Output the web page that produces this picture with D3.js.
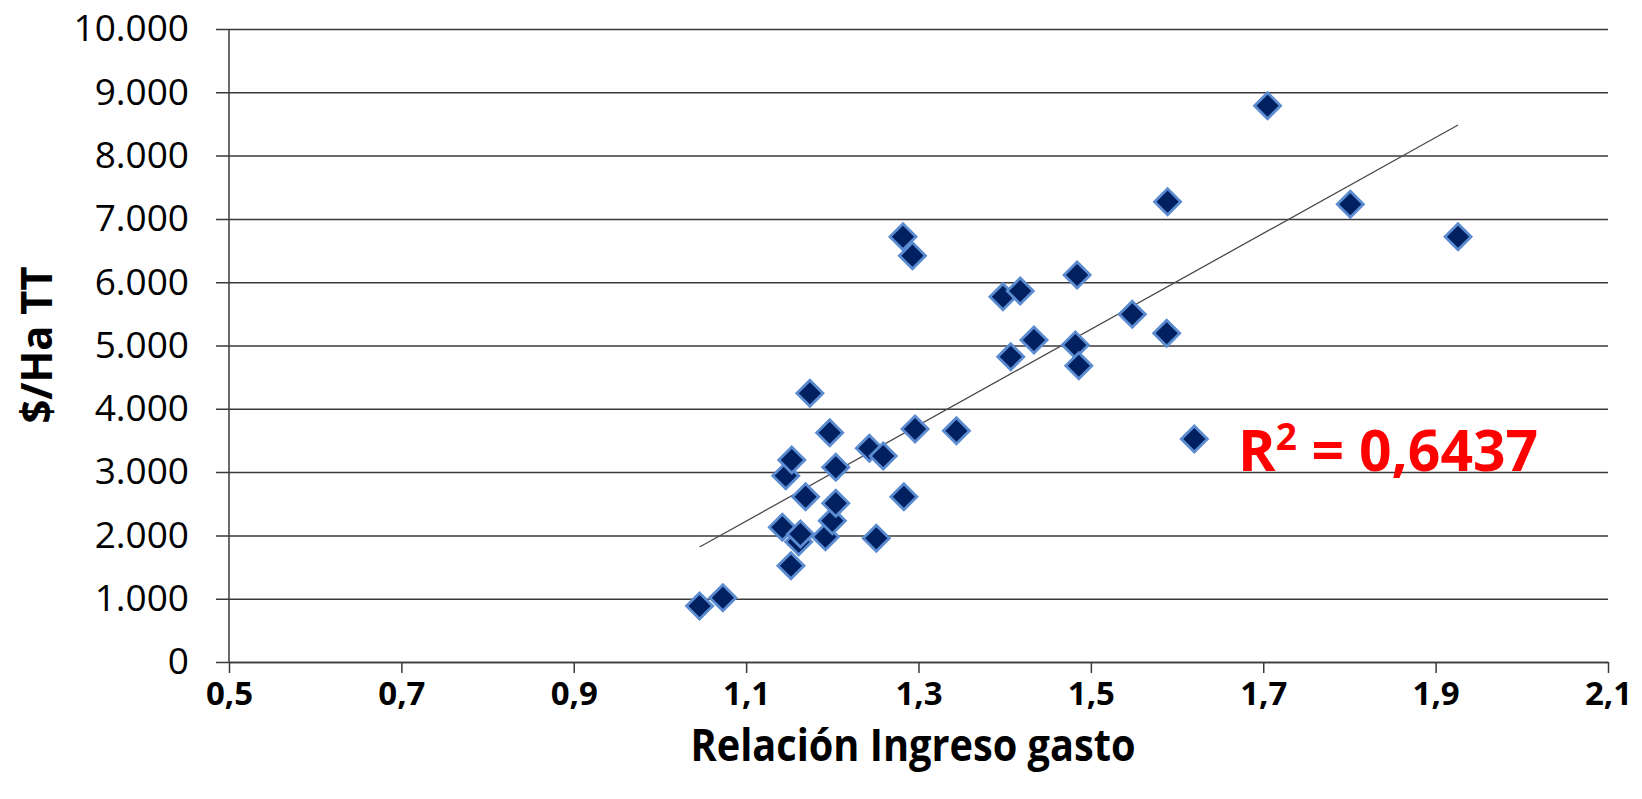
<!DOCTYPE html>
<html>
<head>
<meta charset="utf-8">
<script src="https://cdn.jsdelivr.net/npm/d3@7"></script>
<style>
	body { margin: 0; background: #fff; }
	svg { display: block; font-family: "Open Sans", sans-serif; }
</style>
</head>
<body>
<svg id="chart" width="1642" height="799"></svg>
<script>
// Relación ingreso/gasto (x) vs $/Ha TT (y)
let ratioVals = [1.046, 1.073, 1.142, 1.146, 1.152, 1.153, 1.161, 1.163, 1.169, 1.174,
	1.192, 1.197, 1.200, 1.204, 1.204, 1.243, 1.251, 1.259, 1.282, 1.283,
	1.293, 1.296, 1.344, 1.398, 1.407, 1.418, 1.434, 1.482, 1.484, 1.486,
	1.548, 1.588, 1.589, 1.620, 1.705, 1.801, 1.926];
let haVals = [885, 1016, 2128, 2943, 1521, 3191, 1900, 2022, 2611, 4245,
	1979, 3622, 2232, 2507, 3076, 3376, 1954, 3254, 6719, 2611,
	6419, 3681, 3654, 5771, 4823, 5861, 5087, 5008, 6114, 4681,
	5493, 5193, 7272, 3523, 8788, 7231, 6719];
let xTicks = [0.5, 0.7, 0.9, 1.1, 1.3, 1.5, 1.7, 1.9, 2.1];
let yTicks = [0, 1000, 2000, 3000, 4000, 5000, 6000, 7000, 8000, 9000, 10000];
let xTitle = "Relación Ingreso gasto",
	yTitle = "$/Ha TT",
	r2Label = "0,6437";

let svg = d3.select("#chart");

let plotL = 229,
	plotR = 1608,
	plotT = 29,
	plotB = 662;

let x = d3.scaleLinear().domain([0.5, 2.1]).range([plotL, plotR]);
let y = d3.scaleLinear().domain([0, 10000]).range([plotB, plotT]);

let es = d3.formatLocale({decimal: ",", thousands: ".", grouping: [3], currency: ["$", ""]});
let yFormat = es.format(",.0f"),
	xFormat = es.format(".1f");

// Gridlines + y labels in one go: axis sits on the right edge, ticks run back past the y axis
let yAxis = svg.append("g")
	.attr("transform", `translate(${plotR},0)`)
	.call(d3.axisLeft(y).tickValues(yTicks).tickSize(plotR - 216).tickPadding(27).tickFormat(yFormat));
yAxis.select(".domain").remove();
yAxis.selectAll("line").attr("stroke", "#3a3a3a").attr("stroke-width", 1.5);
yAxis.selectAll("text")
	.attr("font-family", "Open Sans")
	.attr("font-size", 37)
	.attr("fill", "#000");

// Vertical axis line
svg.append("line")
	.attr("x1", plotL).attr("x2", plotL)
	.attr("y1", plotT).attr("y2", plotB)
	.attr("stroke", "#3a3a3a")
	.attr("stroke-width", 1.5);

// X axis
let xAxis = svg.append("g")
	.attr("transform", `translate(0,${plotB})`)
	.call(d3.axisBottom(x).tickValues(xTicks).tickSizeInner(11).tickSizeOuter(0).tickPadding(9).tickFormat(xFormat));
xAxis.select(".domain").attr("stroke", "#3a3a3a").attr("stroke-width", 1.5);
xAxis.selectAll("line").attr("stroke", "#3a3a3a").attr("stroke-width", 1.5);
xAxis.selectAll("text")
	.attr("font-family", "Open Sans")
	.attr("font-weight", 700)
	.attr("font-size", 33)
	.attr("fill", "#000");

// Linear trendline (least squares), drawn over the data range like Excel does
let mx = d3.mean(ratioVals),
	my = d3.mean(haVals);
let sxy = d3.sum(ratioVals, (v, i) => (v - mx) * (haVals[i] - my)),
	sxx = d3.sum(ratioVals, v => (v - mx) * (v - mx));
let slope = sxy / sxx,
	icpt = my - slope * mx;
let xExt = d3.extent(ratioVals);

svg.append("line")
	.attr("x1", x(xExt[0])).attr("y1", y(icpt + slope * xExt[0]))
	.attr("x2", x(xExt[1])).attr("y2", y(icpt + slope * xExt[1]))
	.attr("stroke", "#4a4a4a")
	.attr("stroke-width", 1.3);

// Points - rotated squares
let diamond = d3.symbol().type(d3.symbolSquare).size(340);
svg.append("g")
	.selectAll("path")
	.data(ratioVals.map((v, i) => ({rx: v, ha: haVals[i]})))
	.join("path")
	.attr("d", diamond)
	.attr("transform", d => `translate(${x(d.rx)},${y(d.ha)}) rotate(45)`)
	.attr("fill", "#002060")
	.attr("stroke", "#5b8bd0")
	.attr("stroke-width", 2.8);

// R² label
let r2 = svg.append("text")
	.attr("x", 1238)
	.attr("y", 471)
	.attr("font-family", "Open Sans")
	.attr("font-weight", 700)
	.attr("font-size", 57)
	.attr("fill", "#ff0000");
r2.append("tspan").text("R");
r2.append("tspan").attr("font-size", 37).attr("dy", -21).text("2");
r2.append("tspan").attr("dy", 21).text(" = " + r2Label);

// Axis titles
svg.append("text")
	.attr("x", 913)
	.attr("y", 761)
	.attr("text-anchor", "middle")
	.attr("font-family", "Open Sans")
	.attr("font-weight", 700)
	.attr("font-size", 44)
	.attr("textLength", 445)
	.attr("lengthAdjust", "spacingAndGlyphs")
	.text(xTitle);

svg.append("text")
	.attr("transform", "translate(52,345) rotate(-90)")
	.attr("text-anchor", "middle")
	.attr("font-family", "Open Sans")
	.attr("font-weight", 700)
	.attr("font-size", 43)
	.attr("textLength", 157)
	.attr("lengthAdjust", "spacingAndGlyphs")
	.text(yTitle);
</script>
</body>
</html>
